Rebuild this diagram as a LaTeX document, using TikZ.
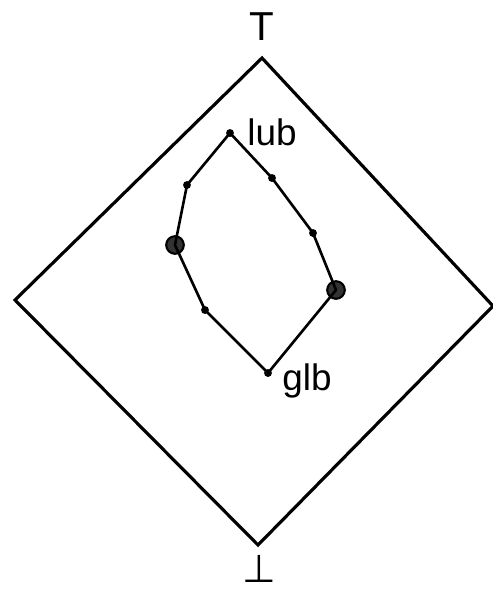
\documentclass[tikz,border=0pt]{standalone}
\usepackage{fontspec}
\setmainfont{Liberation Sans}
\newfontfamily\symfont{DejaVu Sans}
\usetikzlibrary{positioning}

\begin{document}
\begin{tikzpicture}[x=0.02cm, y=-0.02cm,
  outer/.style={draw, line width=1.8pt, line join=miter},
  chainline/.style={draw, line width=1.5pt, line join=round},
  pt/.style={circle, fill=black, inner sep=0pt, minimum size=4.5pt},
  bigpt/.style={circle, fill=black!80, draw=black, line width=1.2pt, inner sep=0pt, minimum size=10pt},
  lab/.style={font=\fontsize{21}{24}\selectfont, inner sep=0pt}
]
  \useasboundingbox (0,0) rectangle (493,593);

  % outer lattice
  \coordinate (top) at (262,58);
  \coordinate (left) at (15,300);
  \coordinate (right) at (493,306);
  \coordinate (bot) at (258,545);
  \draw[outer] (top) -- (left) -- (bot) -- (right) -- cycle;

  % inner chain between lub and glb
  \node[pt] (lub) at (230,133) {};
  \node[pt] (l1) at (187,185) {};
  \node[bigpt] (l2) at (175,245) {};
  \node[pt] (l3) at (205,310) {};
  \node[pt] (glb) at (268,373) {};
  \node[pt] (r1) at (272,178) {};
  \node[pt] (r2) at (313,233) {};
  \node[bigpt] (r3) at (336,290) {};
  \draw[chainline] (lub.center) -- (l1.center) -- (l2.center) -- (l3.center) -- (glb.center);
  \draw[chainline] (lub.center) -- (r1.center) -- (r2.center) -- (r3.center) -- (glb.center);

  % labels
  \node[lab, anchor=base, font=\fontsize{23}{26}\selectfont] (toplab) at (262,40) {T};
  \node[lab, anchor=base, font=\symfont\fontsize{22}{25}\selectfont] (botlab) at (259,582) {⊥};
  \node[lab, anchor=base west] (lublab) at (247,145) {lub};
  \node[lab, anchor=base west] (glblab) at (282,390) {glb};
\end{tikzpicture}
\end{document}
